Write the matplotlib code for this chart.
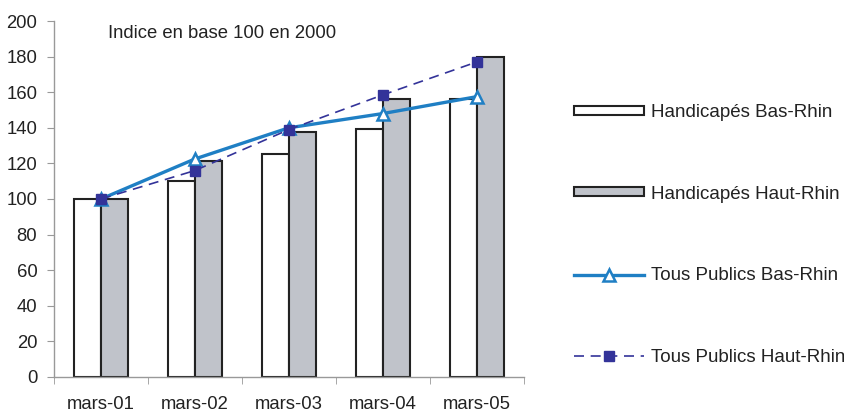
import matplotlib.pyplot as plt
import numpy as np
from matplotlib.patches import Patch
from matplotlib.lines import Line2D

plt.rcParams['font.family'] = ['Liberation Sans', 'DejaVu Sans']

categories = ['mars-01', 'mars-02', 'mars-03', 'mars-04', 'mars-05']
handi_bas = [100, 110, 125.5, 139.5, 156]
handi_haut = [100, 121.5, 137.5, 156, 179.5]
tous_bas = [100, 122.5, 140, 148, 157.5]
tous_haut = [100, 116, 139, 158.5, 177]

fig = plt.figure(figsize=(8.45, 4.12), dpi=100)
ax = fig.add_axes([0.0639, 0.085, 0.556, 0.864])

x = np.arange(len(categories))
w = 0.29
ax.bar(x - w / 2, handi_bas, w, color='white', edgecolor='#222222', linewidth=1.5, zorder=2)
ax.bar(x + w / 2, handi_haut, w, color='#c0c3ca', edgecolor='#222222', linewidth=1.5, zorder=2)
ax.plot(x, tous_haut, '--', color='#333399', lw=1.2, dashes=(6, 4),
        marker='s', ms=7, mfc='#333399', mec='#333399', zorder=4)
ax.plot(x, tous_bas, '-', color='#1f7fc4', lw=2.4,
        marker='^', ms=9, mfc='white', mec='#1f7fc4', mew=1.8, zorder=3)

ax.set_xlim(-0.5, 4.5)
ax.set_ylim(0, 200)
ax.set_yticks(range(0, 201, 20))
ax.set_xticks(x)
ax.set_xticklabels(categories)
ax.set_xticks(np.arange(-0.5, 4.6, 1), minor=True)
ax.tick_params(axis='x', which='major', length=0, pad=14, labelsize=13.3, colors='#222222')
ax.tick_params(axis='x', which='minor', length=5, color='#999999')
ax.tick_params(axis='y', length=5, color='#999999', labelsize=13.3, labelcolor='#222222', pad=7)

for s in ['top', 'right']:
    ax.spines[s].set_visible(False)
for s in ['left', 'bottom']:
    ax.spines[s].set_color('#999999')
    ax.spines[s].set_linewidth(1)

ax.text(0.116, 0.965, 'Indice en base 100 en 2000', transform=ax.transAxes,
        fontsize=13.3, color='#222222', va='center')

handles = [
    Patch(facecolor='white', edgecolor='#222222', linewidth=1.5),
    Patch(facecolor='#c0c3ca', edgecolor='#222222', linewidth=1.5),
    Line2D([], [], color='#1f7fc4', lw=2.4, marker='^', ms=9, mfc='white', mec='#1f7fc4', mew=1.8),
    Line2D([], [], color='#333399', lw=1.2, ls='--', dashes=(6, 4), marker='s', ms=7,
           mfc='#333399', mec='#333399'),
]
labels = ['Handicapés Bas-Rhin', 'Handicapés Haut-Rhin', 'Tous Publics Bas-Rhin', 'Tous Publics Haut-Rhin']
leg = fig.legend(handles, labels, loc='upper left', bbox_to_anchor=(0.679, 0.748),
                 frameon=False, fontsize=13.5, handlelength=3.75, handleheight=0.35,
                 labelspacing=3.45, handletextpad=0.35, borderpad=0, borderaxespad=0)
for t in leg.get_texts():
    t.set_color('#222222')

fig.savefig('out.png', dpi=100)
